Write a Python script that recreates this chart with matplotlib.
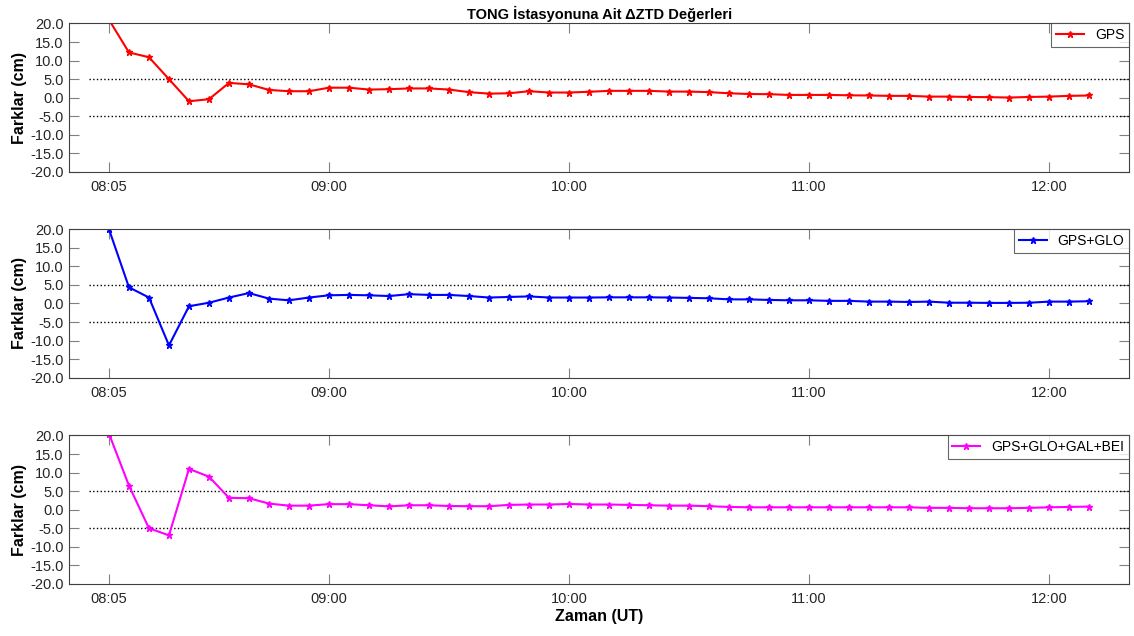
import numpy as np
import pandas as pd
import matplotlib
matplotlib.use('Agg')
import matplotlib.pyplot as plt
import matplotlib.dates as mdates

plt.rcParams['font.family'] = ['Liberation Sans', 'DejaVu Sans']

# zaman ekseni (5 dk araliklarla)
zaman = pd.date_range('2020-01-01 08:05', '2020-01-01 12:10', freq='5min')

gps = [21.0, 12.2, 10.9, 5.0, -0.95, -0.4, 4.0, 3.6, 2.1, 1.75,
       1.75, 2.7, 2.7, 2.2, 2.3, 2.5, 2.5, 2.2, 1.5, 1.1,
       1.2, 1.75, 1.4, 1.4, 1.6, 1.85, 1.85, 1.85, 1.65, 1.65,
       1.5, 1.2, 1.0, 0.95, 0.75, 0.75, 0.75, 0.65, 0.6, 0.5,
       0.5, 0.3, 0.3, 0.2, 0.15, 0.05, 0.2, 0.3, 0.5, 0.6]

gps_glo = [20.0, 4.35, 1.6, -11.3, -0.75, 0.2, 1.6, 2.8, 1.3, 0.85,
           1.6, 2.2, 2.3, 2.2, 2.0, 2.5, 2.3, 2.3, 2.0, 1.6,
           1.75, 1.9, 1.6, 1.6, 1.6, 1.65, 1.65, 1.65, 1.6, 1.5,
           1.4, 1.1, 1.1, 0.95, 0.85, 0.85, 0.7, 0.7, 0.5, 0.5,
           0.4, 0.5, 0.2, 0.2, 0.15, 0.15, 0.2, 0.5, 0.5, 0.6]

gps_glo_gal_bei = [20.5, 6.5, -5.0, -6.9, 11.0, 8.9, 3.2, 3.1, 1.65, 1.1,
                   1.1, 1.5, 1.5, 1.2, 0.9, 1.2, 1.2, 1.0, 0.95, 0.95,
                   1.3, 1.4, 1.4, 1.55, 1.4, 1.4, 1.3, 1.2, 1.1, 1.1,
                   0.95, 0.75, 0.65, 0.65, 0.65, 0.65, 0.65, 0.65, 0.65, 0.65,
                   0.65, 0.5, 0.5, 0.4, 0.4, 0.4, 0.5, 0.65, 0.75, 0.85]

seriler = [gps, gps_glo, gps_glo_gal_bei]
etiketler = ['GPS', 'GPS+GLO', 'GPS+GLO+GAL+BEI']
renkler = ['#ff0000', '#0000ff', '#ff00ff']

esik = 5.0
esik_bas = pd.Timestamp('2020-01-01 08:00')
esik_son = pd.Timestamp('2020-01-01 12:20')
x_min = pd.Timestamp('2020-01-01 07:55')
x_max = pd.Timestamp('2020-01-01 12:20')
x_ticks = pd.to_datetime(['2020-01-01 08:05', '2020-01-01 09:00', '2020-01-01 10:00',
                          '2020-01-01 11:00', '2020-01-01 12:00'])
y_ticks = np.arange(-20, 21, 5)

fig = plt.figure(figsize=(11.34, 6.36), dpi=100)
alt = [0.7296, 0.4061, 0.0818]

for i in range(3):
    ax = fig.add_axes([0.0608, alt[i], 0.935, 0.2335])
    ax.plot([esik_bas, esik_son], [esik, esik], 'k:', lw=1.0)
    ax.plot([esik_bas, esik_son], [-esik, -esik], 'k:', lw=1.0)
    ax.plot(zaman, seriler[i], color=renkler[i], lw=1.5, marker='*',
            ms=5, label=etiketler[i])
    ax.set_xlim(x_min, x_max)
    ax.set_ylim(-20, 20)
    ax.set_xticks(x_ticks)
    ax.xaxis.set_major_formatter(mdates.DateFormatter('%H:%M'))
    ax.set_yticks(y_ticks)
    ax.set_yticklabels(['%.1f' % v for v in y_ticks])
    ax.tick_params(axis='x', pad=6)
    ax.tick_params(axis='y', pad=4)
    ax.tick_params(direction='in', top=True, right=True, length=7,
                   color='#808080', labelsize=10.5, labelcolor='#262626')
    for s in ax.spines.values():
        s.set_color('#404040')
        s.set_linewidth(0.8)
    ax.set_ylabel('Farklar (cm)', fontsize=11.5, fontweight='bold', labelpad=2)
    leg = ax.legend(loc='upper right', fontsize=10, fancybox=False,
                    borderaxespad=0.0, handlelength=2.0, borderpad=0.35)
    leg.get_frame().set_edgecolor('#404040')
    leg.get_frame().set_linewidth(0.8)
    if i == 0:
        ax.set_title('TONG İstasyonuna Ait ΔZTD Değerleri', fontsize=10.5,
                     fontweight='bold', pad=3)
    if i == 2:
        ax.set_xlabel('Zaman (UT)', fontsize=11.5, fontweight='bold', labelpad=2)

fig.savefig('out.png', dpi=100)
